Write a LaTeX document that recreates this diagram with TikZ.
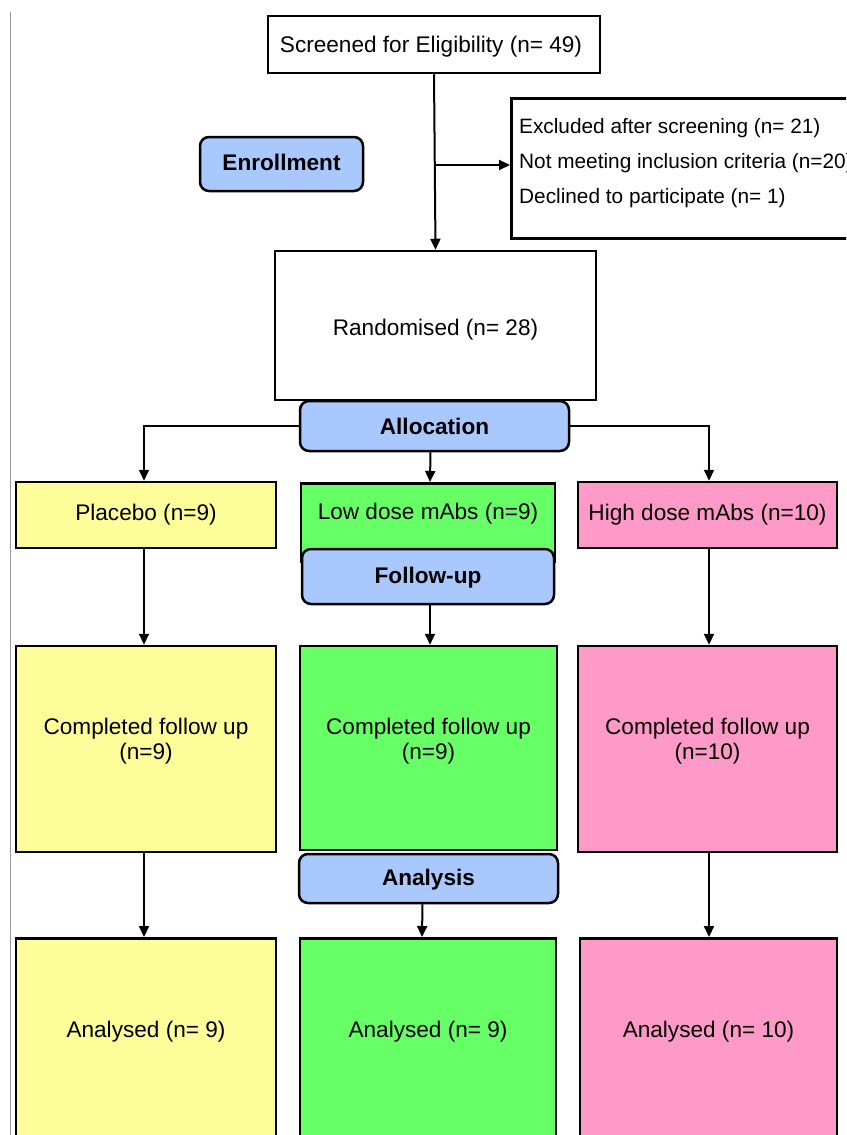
\documentclass[tikz,border=0pt]{standalone}
\usepackage{fontspec}
\setmainfont{Liberation Sans}
\usetikzlibrary{arrows.meta}
\definecolor{cyel}{HTML}{FDFD99}
\definecolor{cgrn}{HTML}{66FF66}
\definecolor{cpnk}{HTML}{FF99C8}
\definecolor{cblu}{HTML}{A9C8FD}
\newcommand{\fs}{\fontsize{22.6}{25}\selectfont}
\begin{document}
\begin{tikzpicture}[x=1pt,y=-1pt,
  box/.style={draw, line width=2.5pt, rectangle, inner sep=0pt},
  phase/.style={draw, line width=2.5pt, rounded corners=9pt, fill=cblu, inner sep=0pt, font=\bfseries\fs},
  txt/.style={font=\fs, align=center, inner sep=0pt},
  arr/.style={line width=2pt, -{Triangle[length=11pt,width=10pt]}},
  ln/.style={line width=2pt}]
\useasboundingbox (0,0) rectangle (846,1135);
\clip (0,0) rectangle (846,1135);
\fill[white] (0,0) rectangle (846,1135);
\draw[gray!80, line width=1pt] (10.5,12) -- (10.5,1140);

% top
\node[box, minimum width=332pt, minimum height=57pt] (scr) at (434,44.5) {};
\node[txt] (scrt) at (431,46.5) {Screened for Eligibility (n= 49)};
\node[box, minimum width=380pt, minimum height=140pt, anchor=north west] (exc) at (510,97) {};
\node[font=\fontsize{20.8}{35}\selectfont, align=left, anchor=west, inner sep=0pt] (exct) at (519,163) {Excluded after screening (n= 21)\\Not meeting inclusion criteria (n=20)\\Declined to participate (n= 1)};
\node[phase, minimum width=163pt, minimum height=54pt] (enr) at (281.5,164) {};
\node[txt, font=\bfseries\fs] (enrt) at (281.5,162) {Enrollment};
\node[box, minimum width=321pt, minimum height=149pt] (ran) at (435.5,325.5) {};
\node[txt] (rant) at (435.5,329.5) {Randomised (n= 28)};
\coordinate (br) at (434,165);
\draw[arr] (scr.south) -- (ran.north);
\draw[arr] (br) -- (exc.west |- br);

% allocation row
\node[box, fill=cyel, minimum width=260pt, minimum height=66pt] (pla) at (146,515) {};
\node[txt] (plat) at (146,515) {Placebo (n=9)};
\node[box, fill=cgrn, minimum width=254pt, minimum height=78pt, anchor=north] (low) at (428,482) {};
\node[txt] (lowt) at (428,514) {Low dose mAbs (n=9)};
\node[box, fill=cpnk, minimum width=259pt, minimum height=66pt] (hig) at (707.5,515) {};
\node[txt] (higt) at (707.5,515) {High dose mAbs (n=10)};
\node[phase, minimum width=269pt, minimum height=50pt] (all) at (434.5,426) {Allocation};
\node[phase, minimum width=252pt, minimum height=55pt] (fol) at (428,576.5) {};
\node[txt, font=\bfseries\fs] (folt) at (428,577.5) {Follow-up};
\draw[arr] (all.west) -| ([xshift=-2pt]pla.north);
\draw[arr] (all.east) -| ([xshift=1.5pt]hig.north);
\draw[arr] ([xshift=-4pt]all.south) -- ([xshift=2pt]low.north);

% completed
\node[box, fill=cyel, minimum width=260pt, minimum height=206pt] (cpla) at (146,749) {};
\node[box, fill=cgrn, minimum width=257pt, minimum height=204pt] (clow) at (428.5,748) {};
\node[box, fill=cpnk, minimum width=259pt, minimum height=206pt] (chig) at (707.5,749) {};
\node[txt] (cplat) at (146,741) {Completed follow up\\(n=9)};
\node[txt] (clowt) at (428.5,741) {Completed follow up\\(n=9)};
\node[txt] (chigt) at (707.5,741) {Completed follow up\\(n=10)};
\draw[arr] ([xshift=-2pt]pla.south) -- ([xshift=-2pt]cpla.north);
\draw[arr] ([xshift=2pt]fol.south) -- ([xshift=1.5pt]clow.north);
\draw[arr] ([xshift=1.5pt]hig.south) -- ([xshift=1.5pt]chig.north);

% analysis
\node[phase, minimum width=259pt, minimum height=49pt] (ana) at (428.5,878.5) {};
\node[txt, font=\bfseries\fs] (anat) at (428.5,879.5) {Analysis};
\node[box, fill=cyel, minimum width=260pt, minimum height=240pt, anchor=north] (apla) at (146,937) {};
\node[box, fill=cgrn, minimum width=256pt, minimum height=240pt, anchor=north] (alow) at (428,937) {};
\node[box, fill=cpnk, minimum width=257pt, minimum height=240pt, anchor=north] (ahig) at (708.5,937) {};
\node[txt] (aplat) at (146,1032) {Analysed (n= 9)};
\node[txt] (alowt) at (428,1032) {Analysed (n= 9)};
\node[txt] (ahigt) at (708.5,1032) {Analysed (n= 10)};
\draw[arr] ([xshift=-2pt]cpla.south) -- ([xshift=-2pt]apla.north);
\draw[arr] ([xshift=-6pt]ana.south) -- ([xshift=-6pt]alow.north);
\draw[arr] ([xshift=1.5pt]chig.south) -- ([xshift=0.5pt]ahig.north);
\end{tikzpicture}
\end{document}
